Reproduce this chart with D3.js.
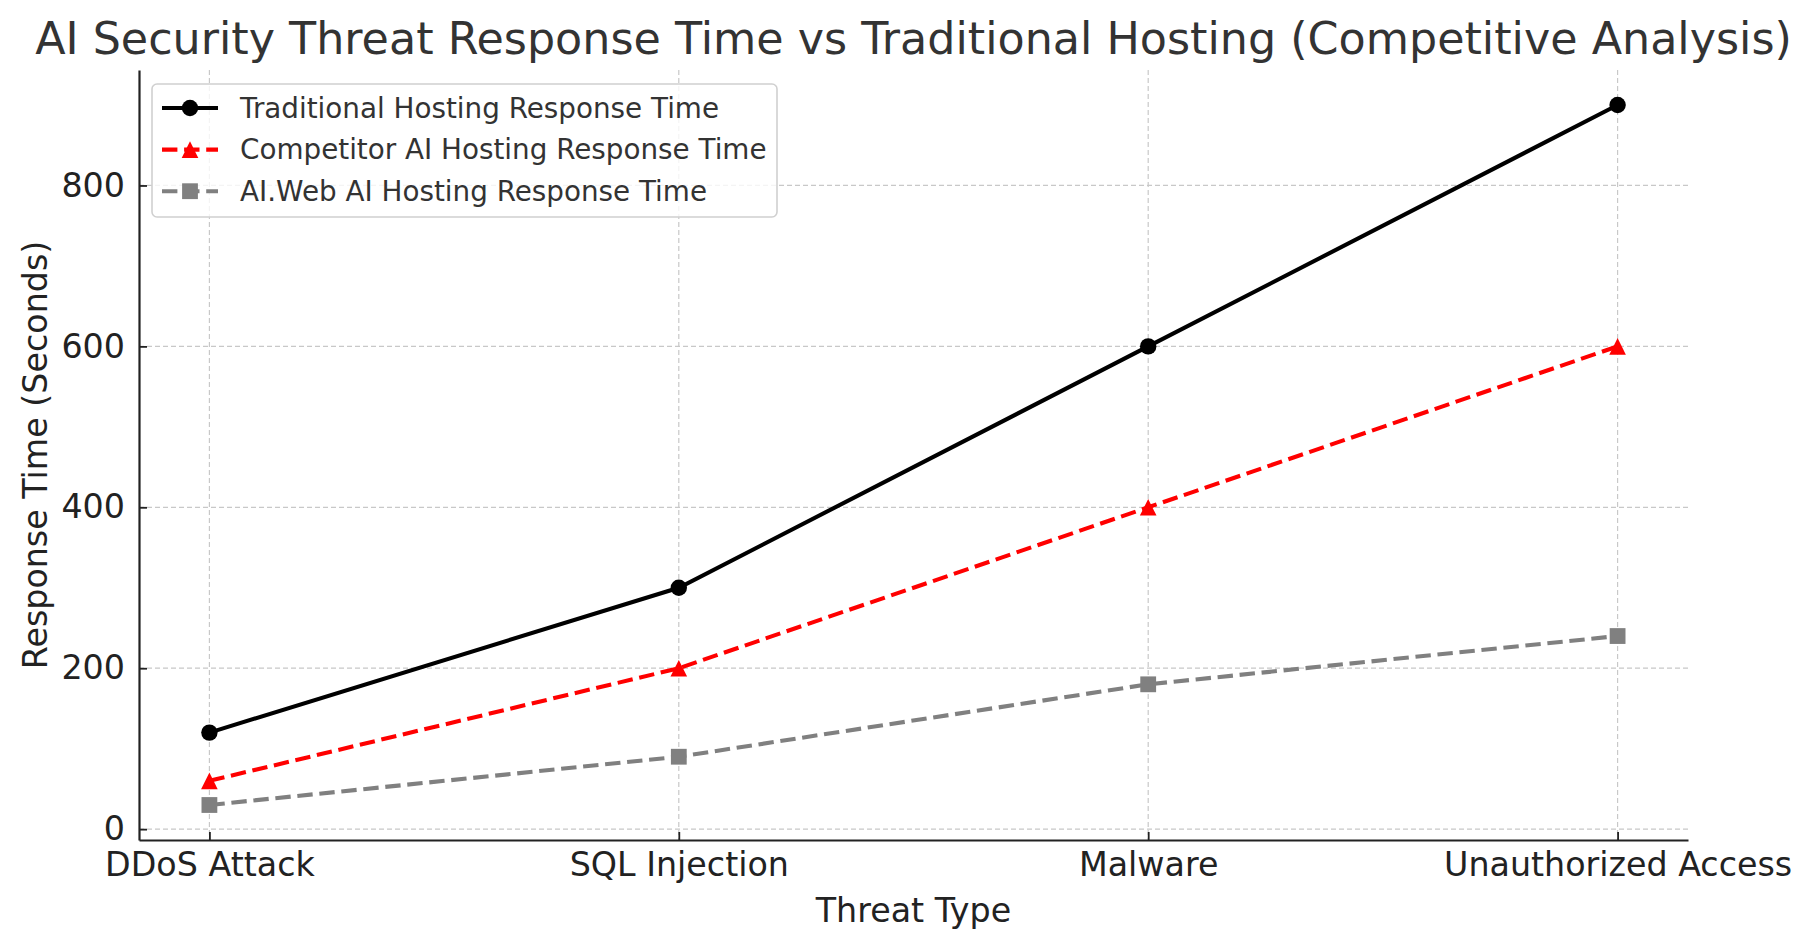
<!DOCTYPE html>
<html>
<head>
<meta charset="utf-8">
<script src="https://cdnjs.cloudflare.com/ajax/libs/d3/7.8.5/d3.min.js"></script>
<style>
  body { margin: 0; background: #fff; }
  svg { display: block; font-family: "DejaVu Sans", sans-serif; }
</style>
</head>
<body>
<div id="chart"></div>
<script>
// data
var threats = ["DDoS Attack", "SQL Injection", "Malware", "Unauthorized Access"];
var traditional = [120, 300, 600, 900];
var competitor = [60, 200, 400, 600];
var aiweb = [30, 90, 180, 240];
var yTicks = [0, 200, 400, 600, 800];
var seriesNames = ["Traditional Hosting Response Time", "Competitor AI Hosting Response Time", "AI.Web AI Hosting Response Time"];

var W = 1813, H = 947;
var margin = {top: 70, right: 125, bottom: 107, left: 139};
var width = W - margin.left - margin.right,
    height = H - margin.top - margin.bottom;

var svg = d3.select("#chart").append("svg")
    .attr("width", W)
    .attr("height", H);

var g = svg.append("g")
    .attr("transform", "translate(" + margin.left + "," + margin.top + ")");

// scales
var x = d3.scalePoint()
    .domain(threats)
    .range([0, width])
    .padding(0.15);

var allVals = traditional.concat(competitor, aiweb);
var ymin = d3.min(allVals), ymax = d3.max(allVals), pad = (ymax - ymin) * 0.05;
var y = d3.scaleLinear()
    .domain([ymin - pad, ymax + pad])
    .range([height, 0]);

// grid
g.append("g").selectAll("line").data(yTicks).enter().append("line")
    .attr("x1", 0).attr("x2", width)
    .attr("y1", function(d) { return y(d); })
    .attr("y2", function(d) { return y(d); })
    .attr("stroke", "#c8c8c8").attr("stroke-width", 1.2)
    .attr("stroke-dasharray", "5,3");

g.append("g").selectAll("line").data(threats).enter().append("line")
    .attr("y1", 0).attr("y2", height)
    .attr("x1", function(d) { return x(d); })
    .attr("x2", function(d) { return x(d); })
    .attr("stroke", "#c8c8c8").attr("stroke-width", 1.2)
    .attr("stroke-dasharray", "5,3");

// axes
var xAxis = g.append("g")
    .attr("transform", "translate(0," + height + ")")
    .call(d3.axisBottom(x).tickSizeInner(-8).tickSizeOuter(0).tickPadding(12));

var yAxis = g.append("g")
    .call(d3.axisLeft(y).tickValues(yTicks).tickSizeInner(-8).tickSizeOuter(0).tickPadding(14));

[xAxis, yAxis].forEach(function(a) {
  a.select(".domain").attr("stroke", "#222").attr("stroke-width", 2.2);
  a.selectAll(".tick line").attr("stroke", "#222").attr("stroke-width", 1.8);
  a.selectAll(".tick text")
      .attr("fill", "#222")
      .style("font-size", "33.3px")
      .style("font-family", "DejaVu Sans");
});

// lines
var series = [
  {name: seriesNames[0], values: traditional, color: "#000000", dash: null, marker: "circle"},
  {name: seriesNames[1], values: competitor, color: "#ff0000", dash: "15.4,6.7", marker: "triangle"},
  {name: seriesNames[2], values: aiweb, color: "#808080", dash: "15.4,6.7", marker: "square"}
];

var line = d3.line()
    .x(function(d, i) { return x(threats[i]); })
    .y(function(d) { return y(d); });

function drawMarker(sel, type, color) {
  if (type === "circle") {
    sel.append("circle").attr("r", 8.2).attr("fill", color);
  } else if (type === "triangle") {
    sel.append("path").attr("d", "M0,-8.3L8.3,8.3L-8.3,8.3Z").attr("fill", color);
  } else {
    sel.append("rect").attr("x", -7.9).attr("y", -7.9).attr("width", 15.8).attr("height", 15.8).attr("fill", color);
  }
}

series.forEach(function(s) {
  g.append("path")
      .datum(s.values)
      .attr("d", line)
      .attr("fill", "none")
      .attr("stroke", s.color)
      .attr("stroke-width", 4.1)
      .attr("stroke-dasharray", s.dash);

  s.values.forEach(function(v, i) {
    var m = g.append("g").attr("transform", "translate(" + x(threats[i]) + "," + y(v) + ")");
    drawMarker(m, s.marker, s.color);
  });
});

// title and labels
svg.append("text")
    .attr("x", margin.left + width / 2).attr("y", 38).attr("dy", "0.35em")
    .attr("text-anchor", "middle")
    .attr("fill", "#333")
    .style("font-size", "44.4px")
    .text("AI Security Threat Response Time vs Traditional Hosting (Competitive Analysis)");

svg.append("text")
    .attr("x", margin.left + width / 2).attr("y", 910).attr("dy", "0.35em")
    .attr("text-anchor", "middle")
    .attr("fill", "#222")
    .style("font-size", "33.3px")
    .text("Threat Type");

svg.append("text")
    .attr("transform", "translate(35," + (margin.top + height / 2) + ") rotate(-90)")
    .attr("dy", "0.35em")
    .attr("text-anchor", "middle")
    .attr("fill", "#222")
    .style("font-size", "33.3px")
    .text("Response Time (Seconds)");

// legend
var legend = svg.append("g");
legend.append("rect")
    .attr("x", 152).attr("y", 84)
    .attr("width", 625).attr("height", 133)
    .attr("rx", 5).attr("ry", 5)
    .attr("fill", "#fff").attr("fill-opacity", 0.8)
    .attr("stroke", "#d0d0d0").attr("stroke-width", 1.6);

series.forEach(function(s, i) {
  var ly = 108 + i * 41.6;
  legend.append("line")
      .attr("x1", 162).attr("x2", 218)
      .attr("y1", ly).attr("y2", ly)
      .attr("stroke", s.color).attr("stroke-width", 4.1)
      .attr("stroke-dasharray", s.dash);
  var m = legend.append("g").attr("transform", "translate(190," + ly + ")");
  drawMarker(m, s.marker, s.color);
  legend.append("text")
      .attr("x", 240).attr("y", ly).attr("dy", "0.35em")
      .attr("fill", "#333")
      .style("font-size", "27.8px")
      .text(s.name);
});
</script>
</body>
</html>
